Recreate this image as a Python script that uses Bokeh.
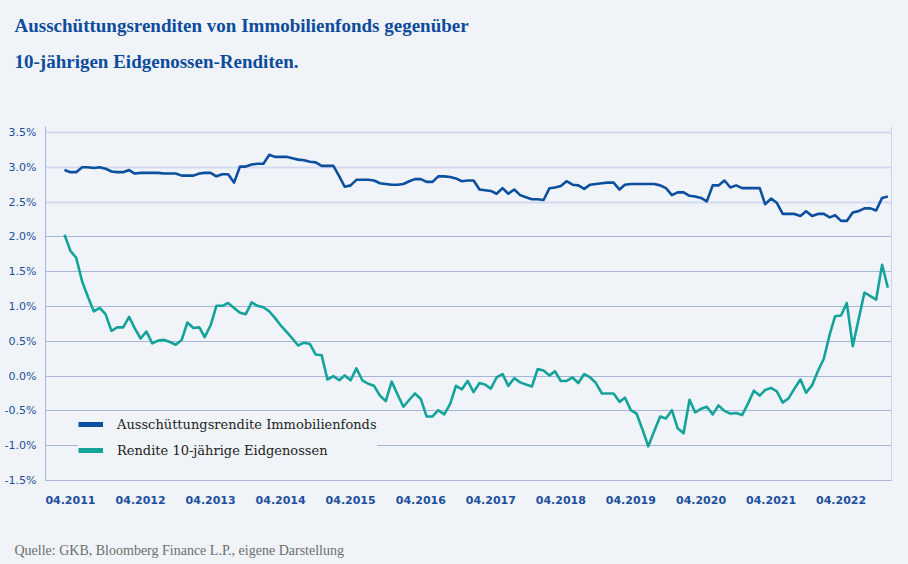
import pandas as pd
from bokeh.plotting import figure
from bokeh.models import (Range1d, FixedTicker, Grid, LinearAxis, Title, Legend, LegendItem,
                          PrintfTickFormatter, DatetimeTickFormatter, ColumnDataSource)
from bokeh.embed import file_html
from bokeh.resources import INLINE

title_lines = ["Ausschüttungsrenditen von Immobilienfonds gegenüber",
               "10-jährigen Eidgenossen-Renditen."]
source_note = "Quelle: GKB, Bloomberg Finance L.P., eigene Darstellung"
series_names = ["Ausschüttungsrendite Immobilienfonds", "Rendite 10-jährige Eidgenossen"]
first_month = "2011-03-01"

immo = [2.96, 2.93, 2.93, 3.00, 3.00, 2.99, 3.00, 2.98, 2.94, 2.93,
        2.93, 2.96, 2.91, 2.92, 2.92, 2.92, 2.92, 2.91, 2.91, 2.91,
        2.88, 2.88, 2.88, 2.91, 2.92, 2.92, 2.87, 2.90, 2.90, 2.78,
        3.01, 3.01, 3.04, 3.05, 3.05, 3.18, 3.15, 3.15, 3.15, 3.13,
        3.11, 3.10, 3.08, 3.07, 3.02, 3.02, 3.02, 2.87, 2.72, 2.74,
        2.82, 2.82, 2.82, 2.81, 2.77, 2.76, 2.75, 2.75, 2.76, 2.80,
        2.83, 2.83, 2.79, 2.79, 2.87, 2.87, 2.86, 2.84, 2.80, 2.81,
        2.81, 2.68, 2.67, 2.66, 2.62, 2.70, 2.62, 2.68, 2.60, 2.57,
        2.54, 2.54, 2.53, 2.70, 2.71, 2.73, 2.80, 2.75, 2.74, 2.69,
        2.75, 2.76, 2.77, 2.78, 2.78, 2.68, 2.75, 2.76, 2.76, 2.76,
        2.76, 2.76, 2.74, 2.70, 2.60, 2.64, 2.64, 2.59, 2.58, 2.56,
        2.51, 2.74, 2.74, 2.81, 2.71, 2.74, 2.70, 2.70, 2.70, 2.70,
        2.47, 2.55, 2.49, 2.33, 2.33, 2.33, 2.30, 2.37, 2.30, 2.33,
        2.33, 2.28, 2.31, 2.23, 2.23, 2.35, 2.37, 2.41, 2.41, 2.38,
        2.56, 2.58]

eidg = [2.03, 1.80, 1.70, 1.36, 1.14, 0.93, 0.98, 0.89, 0.65, 0.70,
        0.70, 0.85, 0.69, 0.54, 0.64, 0.47, 0.51, 0.52, 0.49, 0.45,
        0.52, 0.77, 0.69, 0.70, 0.56, 0.73, 1.01, 1.01, 1.05, 0.98,
        0.91, 0.89, 1.06, 1.01, 0.99, 0.93, 0.84, 0.73, 0.64, 0.54,
        0.44, 0.48, 0.46, 0.31, 0.30, -0.05, 0.00, -0.06, 0.01, -0.06,
        0.11, -0.06, -0.11, -0.14, -0.28, -0.36, -0.08, -0.26, -0.44, -0.34,
        -0.25, -0.33, -0.58, -0.58, -0.49, -0.55, -0.40, -0.14, -0.19, -0.07,
        -0.23, -0.10, -0.12, -0.18, -0.02, 0.03, -0.14, -0.03, -0.09, -0.12,
        -0.15, 0.10, 0.08, 0.01, 0.07, -0.07, -0.07, -0.02, -0.10, 0.03,
        -0.02, -0.10, -0.25, -0.25, -0.25, -0.37, -0.31, -0.49, -0.54, -0.77,
        -1.01, -0.79, -0.58, -0.61, -0.49, -0.75, -0.82, -0.34, -0.52, -0.47,
        -0.44, -0.55, -0.42, -0.50, -0.54, -0.53, -0.56, -0.40, -0.21, -0.28,
        -0.20, -0.17, -0.22, -0.38, -0.32, -0.18, -0.05, -0.24, -0.13, 0.07,
        0.25, 0.60, 0.86, 0.87, 1.05, 0.43, 0.81, 1.20, 1.15, 1.10,
        1.60, 1.27]

y_ticks = [-1.5, -1.0, -0.5, 0.0, 0.5, 1.0, 1.5, 2.0, 2.5, 3.0, 3.5]
x_tick_dates = ["2011-04-01", "2012-04-01", "2013-04-01", "2014-04-01",
                "2015-04-01", "2016-04-01", "2017-04-01", "2018-04-01",
                "2019-04-01", "2020-04-01", "2021-04-01", "2022-04-01"]

BG = "#f0f4f9"
BLUE = "#0b4f9f"
TEAL = "#14a39b"
TXT_BLUE = "#1d4f9c"
TITLE_BLUE = "#0d4b9b"

dates = pd.date_range(first_month, periods=len(immo), freq="MS")
src = ColumnDataSource(dict(date=dates, immo=immo, eidg=eidg))

p = figure(width=906, height=562, x_axis_type="datetime", output_backend="svg",
           toolbar_location=None, title=None,
           x_range=Range1d(pd.Timestamp("2010-11-22"), pd.Timestamp("2022-12-20")),
           y_range=Range1d(-1.5, 3.586),
           min_border_left=45, min_border_right=15, min_border_top=0, min_border_bottom=0,
           background_fill_color=BG, border_fill_color=BG, outline_line_color=None)

try:
    from bokeh.models import GlobalInlineStyleSheet
    p.stylesheets = [GlobalInlineStyleSheet(css="html, body {background-color: #f0f4f9;}")]
except Exception:
    pass

# grids
p.xgrid.visible = False
p.ygrid.ticker = FixedTicker(ticks=[t for t in y_ticks if -1.5 < t < 2.25])
p.ygrid.grid_line_color = "#a9b4dc"
p.ygrid.grid_line_width = 1
upper = Grid(dimension=1, ticker=FixedTicker(ticks=[t for t in y_ticks if t > 2.25]),
             grid_line_color="#d2d9ef", grid_line_width=2)
p.add_layout(upper)

# lines
r1 = p.line("date", "immo", source=src, line_color=BLUE, line_width=2.6, line_join="round")
r2 = p.line("date", "eidg", source=src, line_color=TEAL, line_width=2.6, line_join="round")
# one-point renderers used only for the thicker legend swatches (draw nothing themselves)
lg1 = p.line(x=dates[:1], y=immo[:1], line_color=BLUE, line_width=5)
lg2 = p.line(x=dates[:1], y=eidg[:1], line_color=TEAL, line_width=5)

# y axis
ya = p.yaxis[0]
ya.ticker = FixedTicker(ticks=y_ticks)
ya.formatter = PrintfTickFormatter(format="%.1f%%")
ya.axis_line_color = "#a9b4dc"
ya.major_tick_line_color = None
ya.minor_tick_line_color = None
ya.major_tick_out = 0
ya.major_tick_in = 0
ya.major_label_standoff = 9
ya.major_label_text_font = "DejaVu Sans"
ya.major_label_text_font_size = "11px"
ya.major_label_text_color = TXT_BLUE

# x axis
xa = p.xaxis[0]
xa.ticker = FixedTicker(ticks=[pd.Timestamp(d).value // 10**6 for d in x_tick_dates])
fmt = "%m.%Y"
xa.formatter = DatetimeTickFormatter(milliseconds=fmt, seconds=fmt, minsec=fmt, minutes=fmt,
                                     hourmin=fmt, hours=fmt, days=fmt, months=fmt, years=fmt)
xa.axis_line_color = "#a9b4dc"
xa.major_tick_line_color = None
xa.minor_tick_line_color = None
xa.major_tick_out = 0
xa.major_tick_in = 0
xa.major_label_standoff = 15
xa.major_label_text_font = "DejaVu Sans"
xa.major_label_text_font_style = "bold"
xa.major_label_text_font_size = "11px"
xa.major_label_text_color = TXT_BLUE
xa.axis_label = " "
xa.axis_label_text_font_size = "10px"
xa.axis_label_standoff = 16

# right border line
ra = LinearAxis(ticker=FixedTicker(ticks=[]), axis_line_color="#cdd4ee",
                major_tick_line_color=None, minor_tick_line_color=None,
                major_label_text_font_size="0px")
p.add_layout(ra, "right")

# titles (added inner to outer)
spacer = Title(text=" ", align="left", text_font_size="10px", standoff=42)
t2 = Title(text=title_lines[1], align="left", offset=-31, text_font="Liberation Serif",
           text_font_size="19px", text_font_style="bold", text_color=TITLE_BLUE, standoff=0)
t1 = Title(text=title_lines[0], align="left", offset=-31, text_font="Liberation Serif",
           text_font_size="19px", text_font_style="bold", text_color=TITLE_BLUE, standoff=25)
p.add_layout(spacer, "above")
p.add_layout(t2, "above")
p.add_layout(t1, "above")

note = Title(text=source_note, align="left", offset=-31, text_font="Liberation Serif",
             text_font_size="14px", text_font_style="normal", text_color="#6d6d6d", standoff=9)
p.add_layout(note, "below")

# legend
legend = Legend(items=[LegendItem(label=series_names[0], renderers=[lg1]),
                       LegendItem(label=series_names[1], renderers=[lg2])],
                location=(33, 20), orientation="vertical",
                background_fill_color=BG, background_fill_alpha=1.0,
                border_line_color=None, padding=16, margin=0, spacing=6,
                glyph_width=25, glyph_height=20, label_height=20, label_standoff=14,
                label_text_font="DejaVu Serif", label_text_font_size="13px",
                label_text_color="#222222")
p.add_layout(legend, "center")

open("out.html", "w").write(file_html(p, INLINE))
